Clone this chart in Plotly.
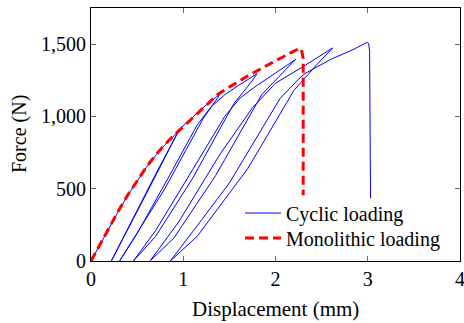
import plotly.graph_objects as go

# Monolithic loading curve
mono_x = [0, 0.1, 0.2, 0.3, 0.4, 0.5, 0.6, 0.7, 0.8, 0.9, 1.0, 1.1, 1.2, 1.3, 1.38, 1.5, 1.6, 1.71,
          1.8, 1.9, 2.0, 2.1, 2.19, 2.25, 2.28, 2.30, 2.30]
mono_y = [0, 120, 235, 350, 458, 558, 650, 732, 805, 870, 930, 990, 1050, 1108, 1155, 1203, 1243, 1284,
          1315, 1352, 1385, 1418, 1447, 1468, 1468, 1400, 455]

# Cyclic loading curve (loading / unloading / reloading sequence)
cyc_x = [0, 0.1, 0.2, 0.3, 0.4, 0.5, 0.6, 0.7, 0.8, 0.9, 0.97,
         0.95, 0.60, 0.22,
         0.40, 0.70, 0.96, 1.05, 1.15, 1.25, 1.35, 1.40,
         1.37, 1.22, 0.80, 0.48, 0.31,
         0.50, 0.85, 1.15, 1.30, 1.45, 1.60, 1.70, 1.80,
         1.74, 1.55, 1.10, 0.70, 0.46,
         0.70, 1.10, 1.45, 1.62, 1.80, 2.00, 2.22,
         2.12, 1.85, 1.35, 0.90, 0.64,
         0.95, 1.40, 1.75, 2.00, 2.30, 2.62,
         2.45, 2.20, 1.70, 1.15, 0.86,
         1.20, 1.50, 2.05, 2.30, 2.60, 2.85, 2.99, 3.01, 3.02, 3.025, 3.03]
cyc_y = [0, 118, 232, 348, 456, 556, 648, 730, 803, 866, 918,
         900, 465, 0,
         225, 600, 912, 965, 1025, 1080, 1130, 1158,
         1125, 990, 500, 170, 0,
         190, 590, 940, 1065, 1150, 1215, 1255, 1295,
         1240, 1090, 570, 170, 0,
         210, 630, 1000, 1130, 1215, 1300, 1395,
         1330, 1150, 590, 160, 0,
         270, 740, 1060, 1230, 1345, 1474,
         1360, 1180, 640, 170, 0,
         285, 540, 1125, 1290, 1395, 1465, 1512, 1505, 1450, 900, 435]

x_ticks = [0, 1, 2, 3, 4]
y_ticks = [0, 500, 1000, 1500]
y_tick_text = ["0", "500", "1,000", "1,500"]

FONT = "Liberation Serif"

# full-window figure; plot area at page pixels x 91..460, y 8..261
W, H = 464, 323
L, T = 91, 8
plot_w = 460 - 91
plot_h = 261 - 8
R = W - L - plot_w
B = H - T - plot_h

fig = go.Figure()
fig.add_trace(go.Scatter(x=cyc_x, y=cyc_y, mode="lines", name="Cyclic loading",
                         line=dict(color="#0000ff", width=1), legend="legend"))
fig.add_trace(go.Scatter(x=mono_x, y=mono_y, mode="lines", name="Monolithic loading",
                         line=dict(color="#ff0000", width=3, dash="9px,5px"), legend="legend2"))

axis_common = dict(showline=True, linecolor="black", linewidth=1, mirror="ticks",
                   ticks="inside", ticklen=5, tickcolor="#666", tickwidth=1,
                   showgrid=False, zeroline=False, ticklabeloverflow="allow",
                   tickfont=dict(family=FONT, size=20, color="black"))

fig.update_xaxes(range=[0, 4], tickvals=x_ticks, **axis_common)
fig.update_yaxes(range=[0, 1750], tickvals=y_ticks, ticktext=y_tick_text, **axis_common)

leg_common = dict(xanchor="left", yanchor="middle", bgcolor="rgba(255,255,255,0)",
                  borderwidth=0, font=dict(family=FONT, size=20), itemwidth=36)

annotations = [
    dict(text="Displacement (mm)", x=0.5, xref="paper", y=(261 - 309) / plot_h, yref="paper",
         xanchor="center", yanchor="middle", showarrow=False,
         font=dict(family=FONT, size=21)),
    dict(text="Force (N)", textangle=-90, x=(19 - 91) / plot_w, xref="paper",
         y=(261 - 134) / plot_h, yref="paper", xanchor="center", yanchor="middle",
         showarrow=False, font=dict(family=FONT, size=20)),
]

fig.update_layout(
    width=W, height=H,
    margin=dict(l=L, r=R, t=T, b=B, pad=0, autoexpand=False),
    paper_bgcolor="white", plot_bgcolor="white",
    font=dict(family=FONT, size=20, color="black"),
    showlegend=True,
    legend=dict(x=(240 - 91) / plot_w, y=(261 - 213) / plot_h, **leg_common),
    legend2=dict(x=(240 - 91) / plot_w, y=(261 - 238) / plot_h, **leg_common),
    annotations=annotations,
)

fig.write_html(
    "out.html",
    config={"displayModeBar": False},
    post_script="document.body.style.margin='0';document.body.style.overflow='hidden';",
)
